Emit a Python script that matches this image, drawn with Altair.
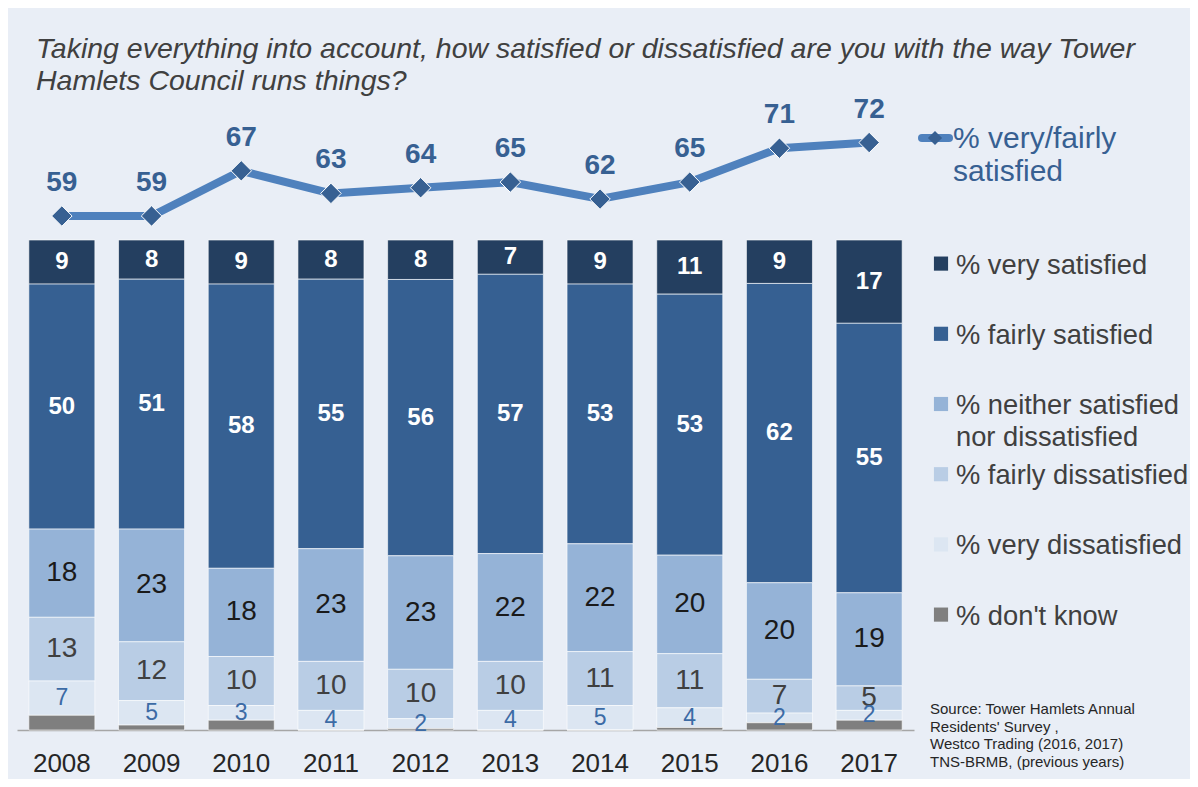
import altair as alt
import pandas as pd

# ---- data ----
years = ["2008", "2009", "2010", "2011", "2012", "2013", "2014", "2015", "2016", "2017"]
very_satisfied = [9, 8, 9, 8, 8, 7, 9, 11, 9, 17]
fairly_satisfied = [50, 51, 58, 55, 56, 57, 53, 53, 62, 55]
neither = [18, 23, 18, 23, 23, 22, 22, 20, 20, 19]
fairly_dissatisfied = [13, 12, 10, 10, 10, 10, 11, 11, 7, 5]
very_dissatisfied = [7, 5, 3, 4, 2, 4, 5, 4, 2, 2]
dont_know = [3, 1, 2, 0, 0.3, 0, 0, 0.5, 1.5, 2]
very_fairly_satisfied = [59, 59, 67, 63, 64, 65, 62, 65, 71, 72]

categories = [
    "% very satisfied",
    "% fairly satisfied",
    "% neither satisfied nor dissatisfied",
    "% fairly dissatisfied",
    "% very dissatisfied",
    "% don't know",
]
legend_labels = [
    "% very satisfied",
    "% fairly satisfied",
    "% neither satisfied\nnor dissatisfied",
    "% fairly dissatisfied",
    "% very dissatisfied",
    "% don't know",
]
colors = ["#243F60", "#366092", "#95B3D7", "#B9CDE5", "#DCE6F2", "#7F7F7F"]
line_label = "% very/fairly\nsatisfied"
source_note = "Source: Tower Hamlets Annual\nResidents' Survey  ,\nWestco Trading (2016, 2017)\nTNS-BRMB, (previous years)"
title_lines = [
    "Taking everything into account, how satisfied or dissatisfied are you with the way Tower",
    "Hamlets Council runs things?",
]

series = [very_satisfied, fairly_satisfied, neither, fairly_dissatisfied, very_dissatisfied, dont_know]
rows = []
for ci, (cat, vals) in enumerate(zip(categories, series)):
    for y, v in zip(years, vals):
        rows.append({
            "year": y,
            "category": cat,
            "value": v,
            "order": len(categories) - 1 - ci,
            "label": "" if cat == "% don't know" else str(int(v)),
        })
bars_df = pd.DataFrame(rows)
line_df = pd.DataFrame({"year": years, "value": very_fairly_satisfied})
legend_df = pd.DataFrame({"category": categories, "legend_label": legend_labels})
line_legend_df = pd.DataFrame({"label": [line_label]})
source_df = pd.DataFrame({"label": [source_note]})

FONT = "Liberation Sans"
W, H = 897, 630

x_enc = alt.X(
    "year:N",
    scale=alt.Scale(paddingInner=0.264, paddingOuter=0.132),
    axis=alt.Axis(
        title=None, labelAngle=0, labelFontSize=26, labelColor="#262626", labelFont=FONT,
        domainColor="#A6A6A6", domainWidth=1.5, ticks=False, labelPadding=20, grid=False,
    ),
)
bar_scale = alt.Scale(domain=[0, H / 490], nice=False, zero=False)
color_scale = alt.Scale(domain=categories, range=colors)

base = alt.Chart(bars_df).transform_stack(
    stack="value", groupby=["year"], sort=[alt.SortField("order", order="ascending")],
    as_=["v0", "v1"], offset="normalize",
).transform_calculate(mid="(datum.v0 + datum.v1) / 2")

bars = base.mark_bar(stroke="#FFFFFF", strokeWidth=1, strokeOpacity=0.6).encode(
    x=x_enc,
    y=alt.Y("v0:Q", scale=bar_scale, axis=None),
    y2="v1:Q",
    color=alt.Color("category:N", scale=color_scale, legend=None),
)


def seg_text(cats, **kw):
    return base.transform_filter(
        alt.FieldOneOfPredicate(field="category", oneOf=cats)
    ).mark_text(font=FONT, baseline="middle", **kw).encode(
        x=alt.X("year:N"),
        y=alt.Y("mid:Q", scale=bar_scale, axis=None),
        text="label:N",
    )


t_sat = seg_text(categories[0:2], fontSize=24, fontWeight="bold", color="#FFFFFF")
t_nei = seg_text([categories[2]], fontSize=28, color="#1A1A1A")
t_fd = seg_text([categories[3]], fontSize=28, color="#404040")
t_vd = seg_text([categories[4]], fontSize=23, color="#3C6BA5")

bar_group = alt.layer(bars, t_sat, t_nei, t_fd, t_vd)

line_scale = alt.Scale(domain=[-31.97, 79.53], nice=False, zero=False)
lbase = alt.Chart(line_df).encode(
    x=alt.X("year:N"),
    y=alt.Y("value:Q", scale=line_scale, axis=None),
)
line = lbase.mark_line(color="#4F81BD", strokeWidth=8)
pts = lbase.mark_point(shape="diamond", filled=True, size=420, color="#376092",
                       stroke="#FFFFFF", strokeWidth=1, opacity=1)
plabels = lbase.mark_text(dy=-33, fontSize=28, fontWeight="bold", color="#376092",
                          font=FONT).encode(text="value:Q")
line_group = alt.layer(line, pts, plabels)

leg_y = alt.Y("category:N", scale=alt.Scale(type="point", domain=categories, range=[163.6, 514.6], padding=0),
              axis=None)
leg_sq = alt.Chart(legend_df).mark_square(size=200, opacity=1).encode(
    x=alt.value(924), y=leg_y,
    color=alt.Color("category:N", scale=color_scale, legend=None),
)
leg_tx = alt.Chart(legend_df).mark_text(
    align="left", baseline="alphabetic", dy=10, fontSize=27.3, color="#404040",
    font=FONT, lineBreak="\n", lineHeight=32,
).encode(x=alt.value(939), y=leg_y, text="legend_label:N")

ll_rule = alt.Chart(line_legend_df).mark_rule(color="#4F81BD", strokeWidth=8, strokeCap="round").encode(
    x=alt.value(905), x2=alt.value(932), y=alt.value(38)
)
ll_pt = alt.Chart(line_legend_df).mark_point(shape="diamond", filled=True, size=200, color="#376092",
                                              opacity=1).encode(x=alt.value(918), y=alt.value(38))
ll_tx = alt.Chart(line_legend_df).mark_text(
    align="left", baseline="alphabetic", dy=10, fontSize=30, color="#376092",
    font=FONT, lineBreak="\n", lineHeight=33,
).encode(x=alt.value(936), y=alt.value(38), text="label:N")
src = alt.Chart(source_df).mark_text(
    align="left", baseline="alphabetic", dy=5, fontSize=15, color="#262626",
    font=FONT, lineBreak="\n", lineHeight=17.5,
).encode(x=alt.value(913), y=alt.value(609), text="label:N")

legend_group = alt.layer(leg_sq, leg_tx, ll_rule, ll_pt, ll_tx, src)

chart = alt.layer(bar_group, line_group, legend_group).resolve_scale(
    y="independent"
).properties(
    width=W, height=H,
    autosize=alt.AutoSizeParams(type="none"),
    padding={"left": 9, "top": 92, "right": 276, "bottom": 49},
    background="#E9EEF6",
    title=alt.TitleParams(
        text=title_lines, anchor="start", frame="group", dx=19, offset=0,
        fontSize=28.5, font=FONT, fontStyle="italic", fontWeight="normal",
        color="#404040", lineHeight=32.5,
    ),
).configure_view(stroke=None)

chart.save("out.html", embed_options={"renderer": "svg", "actions": False})
